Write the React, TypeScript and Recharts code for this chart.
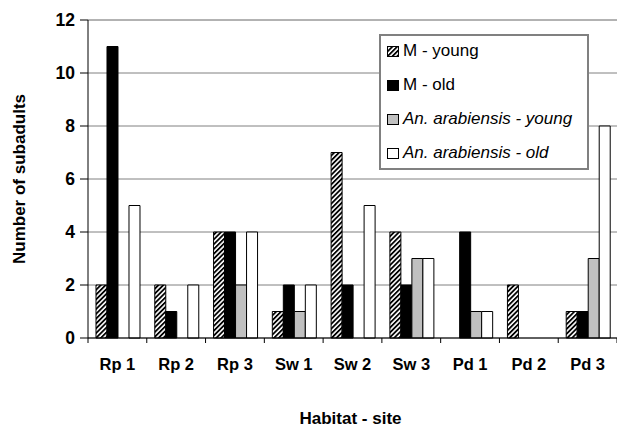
import React from 'react';
import { BarChart, Bar, XAxis, YAxis, CartesianGrid, Legend, ReferenceLine, Label } from 'recharts';

const categories = ['Rp 1', 'Rp 2', 'Rp 3', 'Sw 1', 'Sw 2', 'Sw 3', 'Pd 1', 'Pd 2', 'Pd 3'];
const mYoung = [2, 2, 4, 1, 7, 4, 0, 2, 1];
const mOld = [11, 1, 4, 2, 2, 2, 4, 0, 1];
const anYoung = [0, 0, 2, 1, 0, 3, 1, 0, 3];
const anOld = [5, 2, 4, 2, 5, 3, 1, 0, 8];
const yTicks = [0, 2, 4, 6, 8, 10, 12];
const seriesNames = ['M - young', 'M - old', 'An. arabiensis - young', 'An. arabiensis - old'];

const data = categories.map((c, i) => ({
  site: c,
  mYoung: mYoung[i],
  mOld: mOld[i],
  anYoung: anYoung[i],
  anOld: anOld[i],
}));

const W = 617;
const H = 429;
const LEFT = 88;
const PLOT_W = W - LEFT;
const FONT = '"Liberation Sans", Arial, sans-serif';

const seriesStyle = [
  { key: 'mYoung', fill: 'url(#hatch)', italic: false },
  { key: 'mOld', fill: '#000000', italic: false },
  { key: 'anYoung', fill: '#c0c0c0', italic: true },
  { key: 'anOld', fill: '#ffffff', italic: true },
];

const XTick = (props: any) => {
  const { x, y, payload, index } = props;
  const band = PLOT_W / categories.length;
  return (
    <g>
      <line x1={x - band / 2} x2={x - band / 2} y1={y} y2={y + 5} stroke="#000" strokeWidth={1} />
      {index === categories.length - 1 && (
        <line x1={x + band / 2} x2={x + band / 2} y1={y} y2={y + 5} stroke="#000" strokeWidth={1} />
      )}
      <text
        x={x}
        y={y + 26}
        textAnchor="middle"
        dominantBaseline="central"
        fontFamily={FONT}
        fontWeight="bold"
        fontSize={16.5}
        fill="#000"
      >
        {payload.value}
      </text>
    </g>
  );
};

const LegendContent = () => (
  <div style={{ marginTop: -2, fontFamily: FONT, fontSize: 17, color: '#000' }}>
    {seriesNames.map((name, i) => (
      <div key={name} style={{ height: 34, display: 'flex', alignItems: 'center', paddingLeft: 6 }}>
        <svg width={12} height={11} style={{ display: 'block', marginRight: 4 }}>
          <rect x={0.5} y={0.5} width={11} height={10} fill={seriesStyle[i].fill} stroke="#000" strokeWidth={1} />
        </svg>
        <span style={{ fontStyle: seriesStyle[i].italic ? 'italic' : 'normal', whiteSpace: 'nowrap' }}>{name}</span>
      </div>
    ))}
  </div>
);

export default function App() {
  return (
    <div style={{ position: 'absolute', left: 0, top: 0, width: W, height: H, background: '#fff' }}>
      <BarChart
        width={W}
        height={H}
        data={data}
        margin={{ top: 20, right: 0, bottom: 0, left: 0 }}
        barCategoryGap="13.6%"
        barGap={0}
      >
        <defs>
          <pattern id="hatch" patternUnits="userSpaceOnUse" width={3.4} height={3.4} patternTransform="rotate(45)">
            <rect x={0} y={0} width={3.4} height={3.4} fill="#fff" />
            <rect x={0} y={0} width={1.8} height={3.4} fill="#000" />
          </pattern>
        </defs>
        <CartesianGrid horizontal vertical={false} stroke="#808080" strokeWidth={1} />
        <ReferenceLine y={12} stroke="#a6a6a6" strokeWidth={1} />
        <XAxis
          dataKey="site"
          height={91}
          tickSize={0}
          tickMargin={0}
          tickLine={false}
          axisLine={{ stroke: '#000', strokeWidth: 1 }}
          tick={<XTick />}
          interval={0}
        >
          <Label
            content={(p: any) => {
              const vb = p.viewBox;
              return (
                <text
                  x={vb.x + vb.width / 2 - 2}
                  y={418}
                  textAnchor="middle"
                  dominantBaseline="central"
                  fontFamily={FONT}
                  fontWeight="bold"
                  fontSize={17}
                  fill="#000"
                >
                  Habitat - site
                </text>
              );
            }}
          />
        </XAxis>
        <YAxis
          width={LEFT}
          domain={[0, 12]}
          ticks={yTicks}
          interval={0}
          tickSize={8}
          tickMargin={5}
          tickLine={{ stroke: '#000' }}
          axisLine={{ stroke: '#000', strokeWidth: 1 }}
          tick={{ fontFamily: FONT, fontWeight: 'bold', fontSize: 17.5, fill: '#000' }}
        >
          <Label
            content={(p: any) => {
              const vb = p.viewBox;
              const cy = vb.y + vb.height / 2;
              return (
                <text
                  x={19}
                  y={cy}
                  transform={`rotate(-90, 19, ${cy})`}
                  textAnchor="middle"
                  dominantBaseline="central"
                  fontFamily={FONT}
                  fontWeight="bold"
                  fontSize={17}
                  fill="#000"
                >
                  Number of subadults
                </text>
              );
            }}
          />
        </YAxis>
        <Legend
          layout="vertical"
          align="center"
          verticalAlign="middle"
          content={<LegendContent />}
          wrapperStyle={{
            position: 'absolute',
            left: 379,
            top: 34,
            width: 210,
            height: 136,
            border: '2px solid #808080',
            boxSizing: 'border-box',
            background: '#fff',
          }}
        />
        {seriesStyle.map((s, i) => (
          <Bar
            key={s.key}
            dataKey={s.key}
            name={seriesNames[i]}
            fill={s.fill}
            stroke="#000"
            strokeWidth={1}
            isAnimationActive={false}
          />
        ))}
      </BarChart>
    </div>
  );
}
